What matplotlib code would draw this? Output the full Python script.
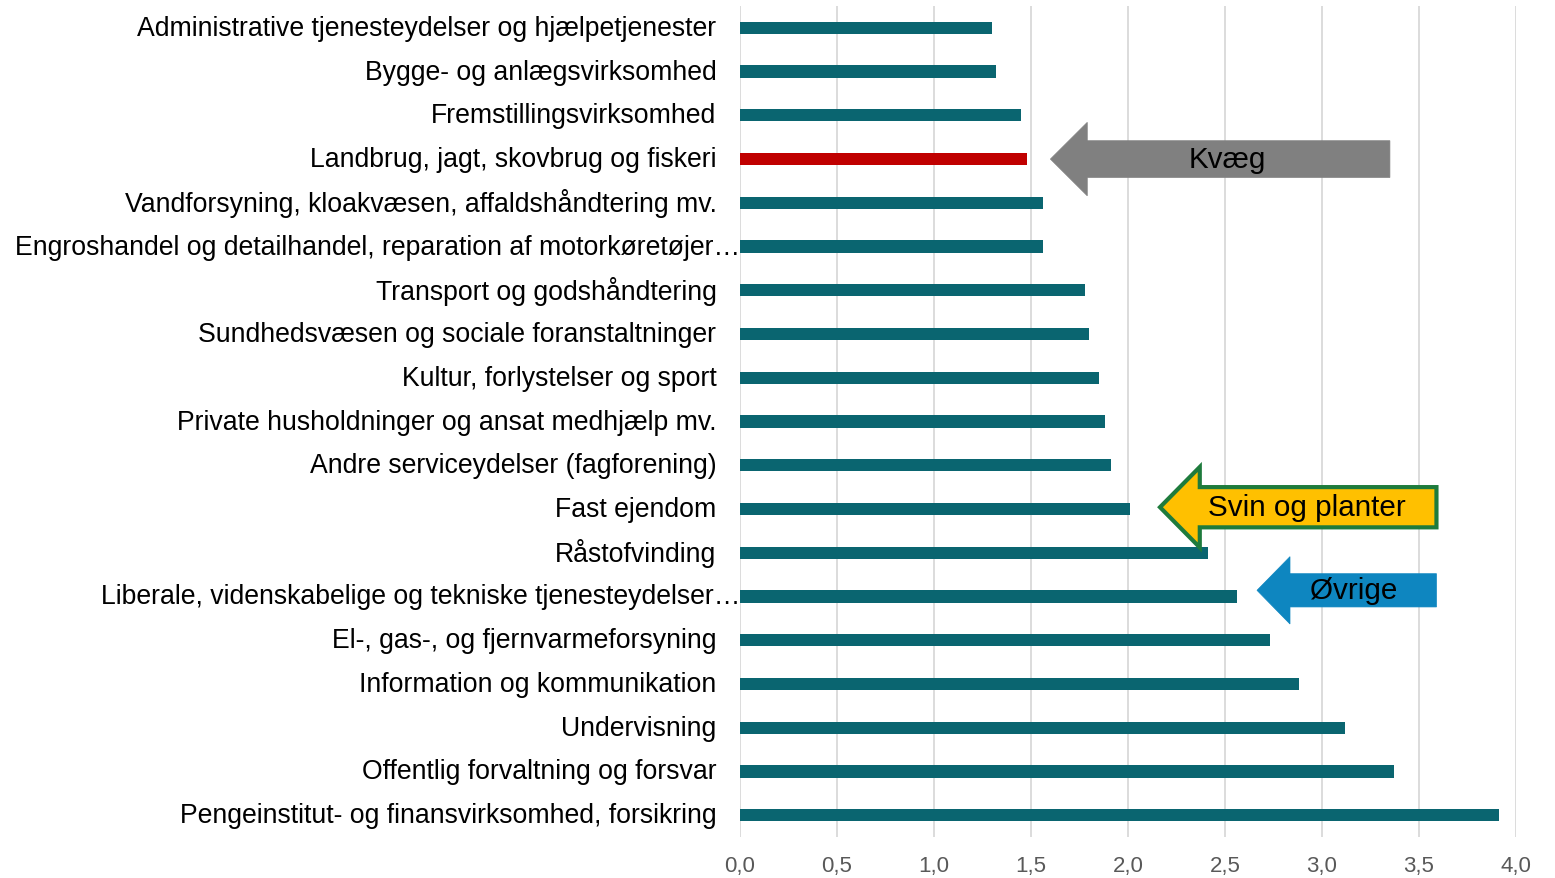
import matplotlib
matplotlib.use("Agg")
from matplotlib import pyplot as plt
from matplotlib.patches import Polygon

plt.rcParams['font.family'] = ['Liberation Sans', 'DejaVu Sans']

categories = [
    "Administrative tjenesteydelser og hjælpetjenester",
    "Bygge- og anlægsvirksomhed",
    "Fremstillingsvirksomhed",
    "Landbrug, jagt, skovbrug og fiskeri",
    "Vandforsyning, kloakvæsen, affaldshåndtering mv.",
    "Engroshandel og detailhandel, reparation af motorkøretøjer…",
    "Transport og godshåndtering",
    "Sundhedsvæsen og sociale foranstaltninger",
    "Kultur, forlystelser og sport",
    "Private husholdninger og ansat medhjælp mv.",
    "Andre serviceydelser (fagforening)",
    "Fast ejendom",
    "Råstofvinding",
    "Liberale, videnskabelige og tekniske tjenesteydelser…",
    "El-, gas-, og fjernvarmeforsyning",
    "Information og kommunikation",
    "Undervisning",
    "Offentlig forvaltning og forsvar",
    "Pengeinstitut- og finansvirksomhed, forsikring",
]
values = [1.30, 1.32, 1.45, 1.48, 1.56, 1.56, 1.78, 1.80, 1.85, 1.88,
          1.91, 2.01, 2.41, 2.56, 2.73, 2.88, 3.12, 3.37, 3.91]
highlight = "Landbrug, jagt, skovbrug og fiskeri"
xticks = [0.0, 0.5, 1.0, 1.5, 2.0, 2.5, 3.0, 3.5, 4.0]

# arrow callouts: label, tip x, head base x, tail x, row, head half, body half, fill, edge, text x
arrows = [
    ("Kvæg", 1.60, 1.79, 3.35, 3.0, 0.84, 0.42, "#808080", "#808080", 2.51),
    ("Svin og planter", 2.165, 2.37, 3.59, 10.96, 0.92, 0.46, "#ffc000", "#1e7b3c", 2.92),
    ("Øvrige", 2.665, 2.835, 3.59, 12.86, 0.77, 0.38, "#0e86c0", "#0e86c0", 3.165),
]

fig = plt.figure(figsize=(15.55, 8.79), dpi=100)
ax = fig.add_axes([740/1555, 1 - 838/879, (1516-740)/1555, (838-7)/879])

colors = ["#c00000" if c == highlight else "#0a6570" for c in categories]
ypos = list(range(len(categories)))
ax.barh(ypos, values, height=0.28, color=colors, zorder=3)

ax.set_xlim(0, 4.0)
ax.set_ylim(len(categories) - 0.5, -0.5)
ax.set_yticks(ypos)
ax.set_yticklabels(categories, fontsize=19.2, color="black", va="center")
ax.set_xticks(xticks)
ax.set_xticklabels([("%.1f" % t).replace(".", ",") for t in xticks],
                   fontsize=16, color="#595959")
ax.tick_params(axis='both', length=0)
ax.tick_params(axis='y', pad=17)
ax.tick_params(axis='x', pad=13)
# truncated labels run right up to the axis
for t, c in zip(ax.yaxis.get_major_ticks(), categories):
    if c.endswith("…"):
        t.set_pad(0)
ax.grid(axis='x', color="#d9d9d9", linewidth=1.3, zorder=0)
for s in ax.spines.values():
    s.set_visible(False)

for lab, tip, base, tail, row, hh, bh, fc, ec, tx in arrows:
    pts = [(tip, row), (base, row - hh), (base, row - bh), (tail, row - bh),
           (tail, row + bh), (base, row + bh), (base, row + hh)]
    ax.add_patch(Polygon(pts, closed=True, facecolor=fc, edgecolor=ec,
                         linewidth=3 if ec != fc else 0.5, zorder=5, clip_on=False))
    ax.text(tx, row, lab, ha='center', va='center', fontsize=21.3,
            color="black", zorder=6)

fig.savefig("out.png", dpi=100)
